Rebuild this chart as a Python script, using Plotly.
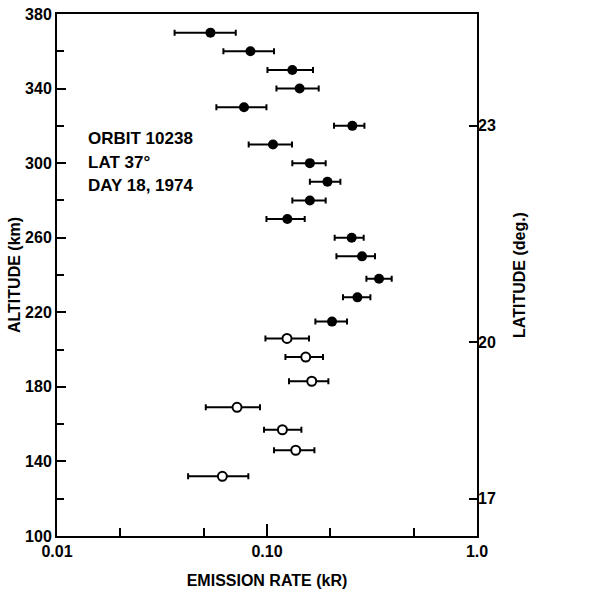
import plotly.graph_objects as go

# ---- data ----
alt_filled = [370, 360, 350, 340, 330, 320, 310, 300, 290, 280, 270, 260, 250, 238, 228, 215]
rate_filled = [0.0538, 0.0834, 0.132, 0.143, 0.0777, 0.255, 0.1068, 0.160, 0.194, 0.160, 0.125, 0.253, 0.2835, 0.3415, 0.2695, 0.204]
lo_filled = [0.0363, 0.0620, 0.1005, 0.1109, 0.0574, 0.2085, 0.0818, 0.132, 0.160, 0.132, 0.0994, 0.210, 0.2141, 0.2974, 0.2301, 0.170]
hi_filled = [0.0710, 0.108, 0.1656, 0.1763, 0.0994, 0.291, 0.1315, 0.1903, 0.2236, 0.1903, 0.1512, 0.2887, 0.3268, 0.3925, 0.3107, 0.2404]

alt_open = [206, 196, 183, 169, 157, 146, 132]
rate_open = [0.1245, 0.1529, 0.1633, 0.0720, 0.1184, 0.137, 0.0613]
lo_open = [0.0983, 0.1224, 0.1273, 0.0511, 0.0968, 0.108, 0.0421]
hi_open = [0.1585, 0.1848, 0.196, 0.0926, 0.1458, 0.1682, 0.0815]

x_ticks = [0.01, 0.1, 1.0]
x_ticktext = ["0.01", "0.10", "1.0"]
x_minor = [0.02, 0.05, 0.2, 0.5]
y_ticks = [100, 140, 180, 220, 260, 300, 340, 380]
lat_labels = ["23", "20", "17"]
lat_alt = [320, 204, 120]
info_lines = ["ORBIT 10238", "LAT 37°", "DAY 18, 1974"]

FONT = "Liberation Sans, Arial, sans-serif"

def err(vals, lo, hi):
    plus = [h - v for v, h in zip(vals, hi)]
    minus = [v - l for v, l in zip(vals, lo)]
    return dict(type="data", symmetric=False, array=plus, arrayminus=minus,
                color="black", thickness=2, width=3)

fig = go.Figure()
fig.add_trace(go.Scatter(
    x=rate_filled, y=alt_filled, mode="markers",
    marker=dict(symbol="circle", size=10, color="black"),
    error_x=err(rate_filled, lo_filled, hi_filled), showlegend=False))
# open circles drawn against the (identically scaled) right-hand axis so it is rendered
fig.add_trace(go.Scatter(
    x=rate_open, y=alt_open, mode="markers", yaxis="y2",
    marker=dict(symbol="circle", size=9, color="white", line=dict(color="black", width=2)),
    error_x=err(rate_open, lo_open, hi_open), showlegend=False))

for i, t in enumerate(info_lines):
    fig.add_annotation(text=t, xref="paper", yref="paper", x=0.07, y=0.761 - i * 0.045,
                       xanchor="left", yanchor="middle", showarrow=False,
                       font=dict(family=FONT, size=17, color="black", weight="bold"))

fig.update_layout(
    width=613, height=594,
    margin=dict(l=57, r=136, t=14, b=58),
    plot_bgcolor="white", paper_bgcolor="white",
    font=dict(family=FONT, size=16, color="black", weight="bold"),
    xaxis=dict(type="log", range=[-2, 0], tickmode="array", tickvals=x_ticks, ticktext=x_ticktext,
               ticks="inside", ticklen=12, tickwidth=2, tickcolor="black",
               minor=dict(tickmode="array", tickvals=x_minor, ticks="inside", ticklen=8,
                          tickwidth=2, tickcolor="black"),
               showline=True, linewidth=2, linecolor="black", mirror=True,
               showgrid=False, zeroline=False, automargin=False,
               title=dict(text="EMISSION RATE (kR)", standoff=16,
                          font=dict(family=FONT, size=16, weight="bold"))),
    yaxis=dict(range=[100, 380], tickmode="array", tickvals=y_ticks,
               ticks="inside", ticklen=9, tickwidth=2, tickcolor="black",
               minor=dict(dtick=20, ticks="inside", ticklen=7, tickwidth=2, tickcolor="black"),
               showline=True, linewidth=2, linecolor="black", mirror=True,
               showgrid=False, zeroline=False, automargin=False,
               title=dict(text="ALTITUDE (km)", standoff=0,
                          font=dict(family=FONT, size=16, weight="bold"))),
    yaxis2=dict(range=[100, 380], overlaying="y", side="right", anchor="x",
                tickmode="array", tickvals=lat_alt, ticktext=lat_labels,
                ticks="inside", ticklen=8, tickwidth=2, tickcolor="black",
                showline=False, showgrid=False, zeroline=False, automargin=False,
                title=dict(text="LATITUDE (deg.)", standoff=18,
                           font=dict(family=FONT, size=16, weight="bold"))),
)

fig.write_html("out.html")
